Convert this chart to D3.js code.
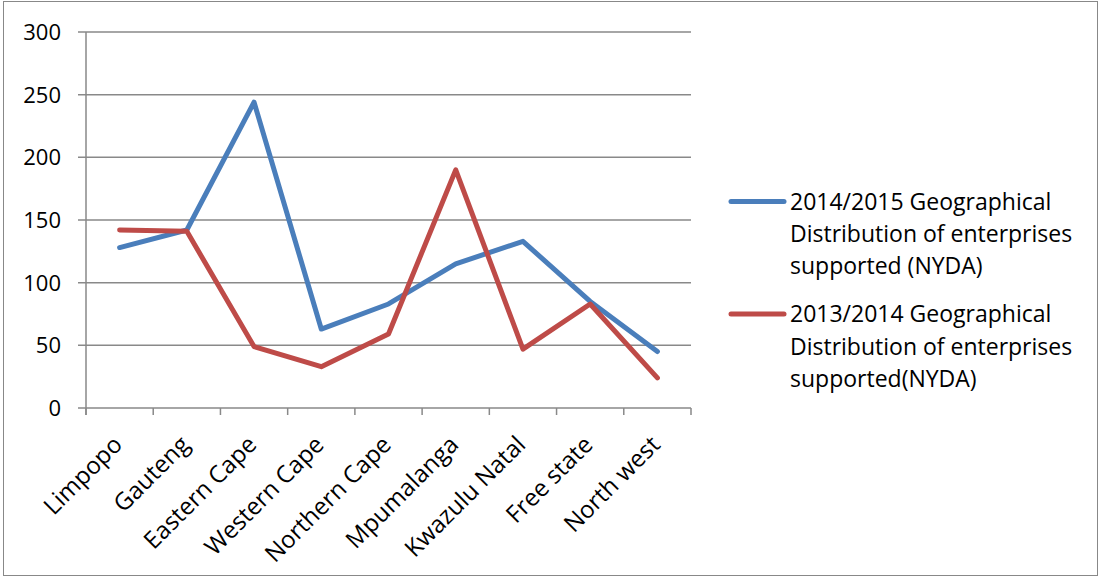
<!DOCTYPE html>
<html><head><meta charset="utf-8">
<script src="https://cdn.jsdelivr.net/npm/d3@7"></script>
<style>body{margin:0;background:#fff}svg{display:block}text{font-family:"Open Sans","DejaVu Sans",sans-serif;fill:#000}</style>
</head><body><svg id="c" width="1101" height="577"></svg>
<script>
const categories = ["Limpopo","Gauteng","Eastern Cape","Western Cape","Northern Cape","Mpumalanga","Kwazulu Natal","Free state","North west"];
const series2014 = [128,142,244,63,83,115,133,85,45];
const series2013 = [142,141,49,33,59,190,47,83,24];
const seriesNames = ["2014/2015 Geographical Distribution of enterprises supported (NYDA)","2013/2014 Geographical Distribution of enterprises supported(NYDA)"];
const legendLines = [["2014/2015 Geographical","Distribution of enterprises","supported (NYDA)"],["2013/2014 Geographical","Distribution of enterprises","supported(NYDA)"]];
const colors = ["#4a7ebb","#be4b48"];
const yTicks = [0,50,100,150,200,250,300];

const svg = d3.select("#c");
svg.append("rect").attr("x",3.5).attr("y",1.5).attr("width",1094).attr("height",574).attr("fill","#fff").attr("stroke","#888").attr("stroke-width",1);

const x = d3.scaleBand().domain(categories).range([86,691]);
const y = d3.scaleLinear().domain([0,300]).range([408,32]);

// gridlines
svg.append("g").selectAll("line").data(yTicks).join("line")
  .attr("x1",78).attr("x2",691).attr("y1",d=>y(d)).attr("y2",d=>y(d))
  .attr("stroke","#898989").attr("stroke-width",1.5);
// y axis line
svg.append("line").attr("x1",86).attr("x2",86).attr("y1",32).attr("y2",415).attr("stroke","#898989").attr("stroke-width",1.5);
// x ticks
const xt = categories.map((c,i)=>x.range()[0]+i*x.step()).concat([x.range()[1]]);
svg.append("g").selectAll("line").data(xt).join("line")
  .attr("x1",d=>d).attr("x2",d=>d).attr("y1",408).attr("y2",415)
  .attr("stroke","#898989").attr("stroke-width",1.5);
// y labels
svg.append("g").selectAll("text").data(yTicks).join("text")
  .attr("x",61).attr("y",d=>y(d)).attr("dy","0.36em").attr("text-anchor","end")
  .attr("font-size",22).text(d=>d);
// x labels
svg.append("g").selectAll("text").data(categories).join("text")
  .attr("transform",d=>`translate(${x(d)+x.bandwidth()/2-1},${441}) rotate(-45)`)
  .attr("text-anchor","end").attr("dy","0.3em").attr("font-size",24).text(d=>d);

const line = d3.line().x((d,i)=>x(categories[i])+x.bandwidth()/2).y(d=>y(d));
[series2014,series2013].forEach((s,k)=>{
  svg.append("path").datum(s).attr("d",line).attr("fill","none")
    .attr("stroke",colors[k]).attr("stroke-width",5).attr("stroke-linejoin","round").attr("stroke-linecap","round");
});

// legend
const ly = [201.5,314];
legendLines.forEach((lines,k)=>{
  svg.append("line").attr("x1",731).attr("x2",784).attr("y1",ly[k]).attr("y2",ly[k])
    .attr("stroke",colors[k]).attr("stroke-width",5).attr("stroke-linecap","round");
  lines.forEach((t,j)=>{
    svg.append("text").attr("x",790).attr("y",ly[k]+j*32.3).attr("dy","0.36em")
      .attr("font-size",23).text(t);
  });
});
</script></body></html>
